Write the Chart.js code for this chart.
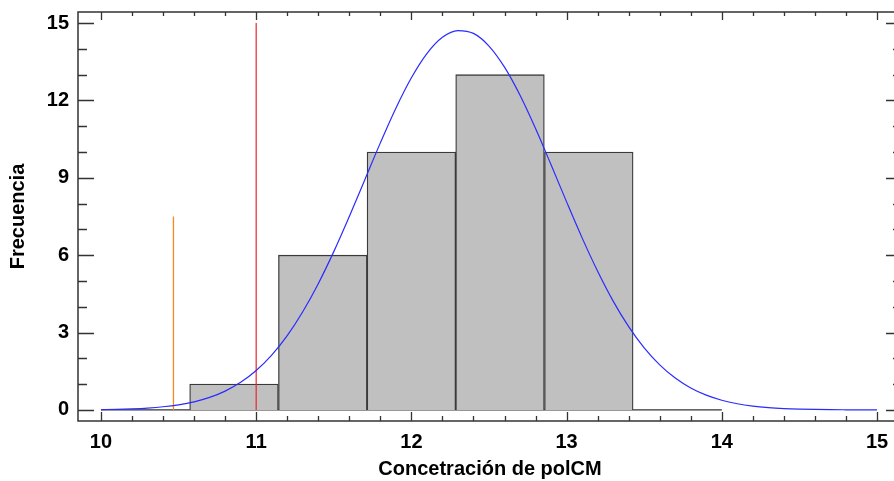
<!DOCTYPE html>
<html>
<head>
<meta charset="utf-8">
<script src="https://cdn.jsdelivr.net/npm/chart.js@4/dist/chart.umd.min.js"></script>
<style>
html,body{margin:0;padding:0;background:#fff;overflow:hidden;width:894px;height:481px;}
canvas{display:block;}
</style>
</head>
<body>
<canvas id="c" width="910" height="481"></canvas>
<script>
// ---- data ----
const binCenters = [10.857, 11.429, 12.000, 12.571, 13.143];
const binCounts  = [1, 6, 10, 13, 10];
const curveX = [10.0,10.1,10.2,10.3,10.4,10.5,10.6,10.7,10.8,10.9,11.0,11.1,11.2,11.3,11.4,11.5,11.6,11.7,11.8,11.9,12.0,12.1,12.2,12.3,12.4,12.5,12.6,12.7,12.8,12.9,13.0,13.1,13.2,13.3,13.4,13.5,13.6,13.7,13.8,13.9,14.0,14.1,14.2,14.3,14.4,14.5,14.6,14.7,14.8,14.9,15.0];
const curveY = [0.013,0.024,0.043,0.073,0.122,0.198,0.314,0.484,0.729,1.068,1.527,2.124,2.879,3.804,4.894,6.138,7.500,8.928,10.355,11.70,12.88,13.82,14.45,14.71,14.60,14.11,13.29,12.20,10.91,9.503,8.067,6.671,5.376,4.220,3.228,2.406,1.747,1.236,0.852,0.572,0.374,0.239,0.148,0.090,0.053,0.030,0.017,0.009,0.005,0.002,0.001];
const redLineX = 11.0, redLineTop = 15;
const orangeLineX = 10.467, orangeLineTop = 7.5;
const baselineX = [10, 14];
const xTickLabels = [10, 11, 12, 13, 14, 15];
const xMinorTicks = [10.2,10.4,10.6,10.8,11.2,11.4,11.6,11.8,12.2,12.4,12.6,12.8,13.2,13.4,13.6,13.8,14.2,14.4,14.6,14.8];
const yTickLabels = [0, 3, 6, 9, 12, 15];
const yMinorTicks = [1, 2, 4, 5, 7, 8, 10, 11, 13, 14];
const xTitle = 'Concetración de polCM';
const yTitle = 'Frecuencia';

const FONT = "'Liberation Sans', Arial, sans-serif";

const frameTicks = {
  id: 'frameTicks',
  afterDatasetsDraw(chart) {
    const {ctx, chartArea: a, scales: {x, y}} = chart;
    ctx.save();
    ctx.strokeStyle = '#333';
    ctx.lineWidth = 1.5;
    ctx.strokeRect(a.left, a.top, a.right - a.left, a.bottom - a.top);
    ctx.lineWidth = 1.3;
    ctx.beginPath();
    const xt = (v, major) => {
      const p = Math.round(x.getPixelForValue(v)) + 0.5;
      ctx.moveTo(p, a.bottom); ctx.lineTo(p, a.bottom - (major ? 9 : 5));
      ctx.moveTo(p, a.top); ctx.lineTo(p, a.top + (major ? 8 : 4));
    };
    const yt = (v, major) => {
      const p = Math.round(y.getPixelForValue(v)) + 0.5;
      ctx.moveTo(a.left, p); ctx.lineTo(a.left + (major ? 16 : 9), p);
      ctx.moveTo(a.right, p); ctx.lineTo(a.right - (major ? 16 : 9), p);
    };
    xTickLabels.forEach(v => xt(v, true));
    xMinorTicks.forEach(v => xt(v, false));
    yTickLabels.forEach(v => yt(v, true));
    yMinorTicks.forEach(v => yt(v, false));
    ctx.stroke();
    ctx.restore();
  }
};

const noPad = s => { s.paddingTop = 0; s.paddingBottom = 0; s.paddingLeft = 0; s.paddingRight = 0; };

new Chart(document.getElementById('c'), {
  type: 'bar',
  data: {
    datasets: [
      {
        type: 'line', label: 'curve',
        data: curveX.map((v, i) => ({x: v, y: curveY[i]})),
        borderColor: '#2b2bff', borderWidth: 1.2, pointRadius: 0,
        cubicInterpolationMode: 'monotone', order: 0
      },
      {
        type: 'line', label: 'red',
        data: [{x: redLineX, y: 0}, {x: redLineX, y: redLineTop}],
        borderColor: '#e8262b', borderWidth: 1.2, pointRadius: 0, order: 1
      },
      {
        type: 'line', label: 'orange',
        data: [{x: orangeLineX, y: 0}, {x: orangeLineX, y: orangeLineTop}],
        borderColor: '#f58a1f', borderWidth: 1.3, pointRadius: 0, order: 1
      },
      {
        type: 'line', label: 'base',
        data: baselineX.map(v => ({x: v, y: 0})),
        borderColor: '#333', borderWidth: 1.3, pointRadius: 0, order: 3
      },
      {
        type: 'bar', label: 'hist',
        data: binCenters.map((v, i) => ({x: v, y: binCounts[i]})),
        backgroundColor: '#c0c0c0', borderColor: '#3a3a3a', borderWidth: 1.3,
        barPercentage: 1, categoryPercentage: 1, order: 2
      }
    ]
  },
  options: {
    responsive: false,
    animation: false,
    layout: {padding: {top: 12, right: 8, left: 0, bottom: 0}},
    plugins: {legend: {display: false}, tooltip: {enabled: false}},
    scales: {
      x: {
        type: 'linear', min: 9.852, max: 15.161, offset: false,
        grid: {display: false, drawTicks: false}, border: {display: false},
        afterBuildTicks: s => { s.ticks = xTickLabels.map(v => ({value: v})); },
        afterFit: s => { s.height = 60; noPad(s); },
        ticks: {color: '#000', padding: 9, maxRotation: 0, font: {family: FONT, size: 20, weight: 'bold'}},
        title: {display: true, text: xTitle, color: '#000', padding: {top: 0, bottom: 0}, font: {family: FONT, size: 20, weight: 'bold'}}
      },
      y: {
        type: 'linear', min: -0.43, max: 15.43,
        grid: {display: false, drawTicks: false}, border: {display: false},
        afterBuildTicks: s => { s.ticks = yTickLabels.map(v => ({value: v})); },
        afterFit: s => { s.width = 78; noPad(s); },
        ticks: {color: '#000', padding: 9, font: {family: FONT, size: 20, weight: 'bold', lineHeight: 1}},
        title: {display: true, text: yTitle, color: '#000', padding: {top: 6, bottom: 0}, font: {family: FONT, size: 20, weight: 'bold'}}
      }
    }
  },
  plugins: [frameTicks]
});
</script>
</body>
</html>
